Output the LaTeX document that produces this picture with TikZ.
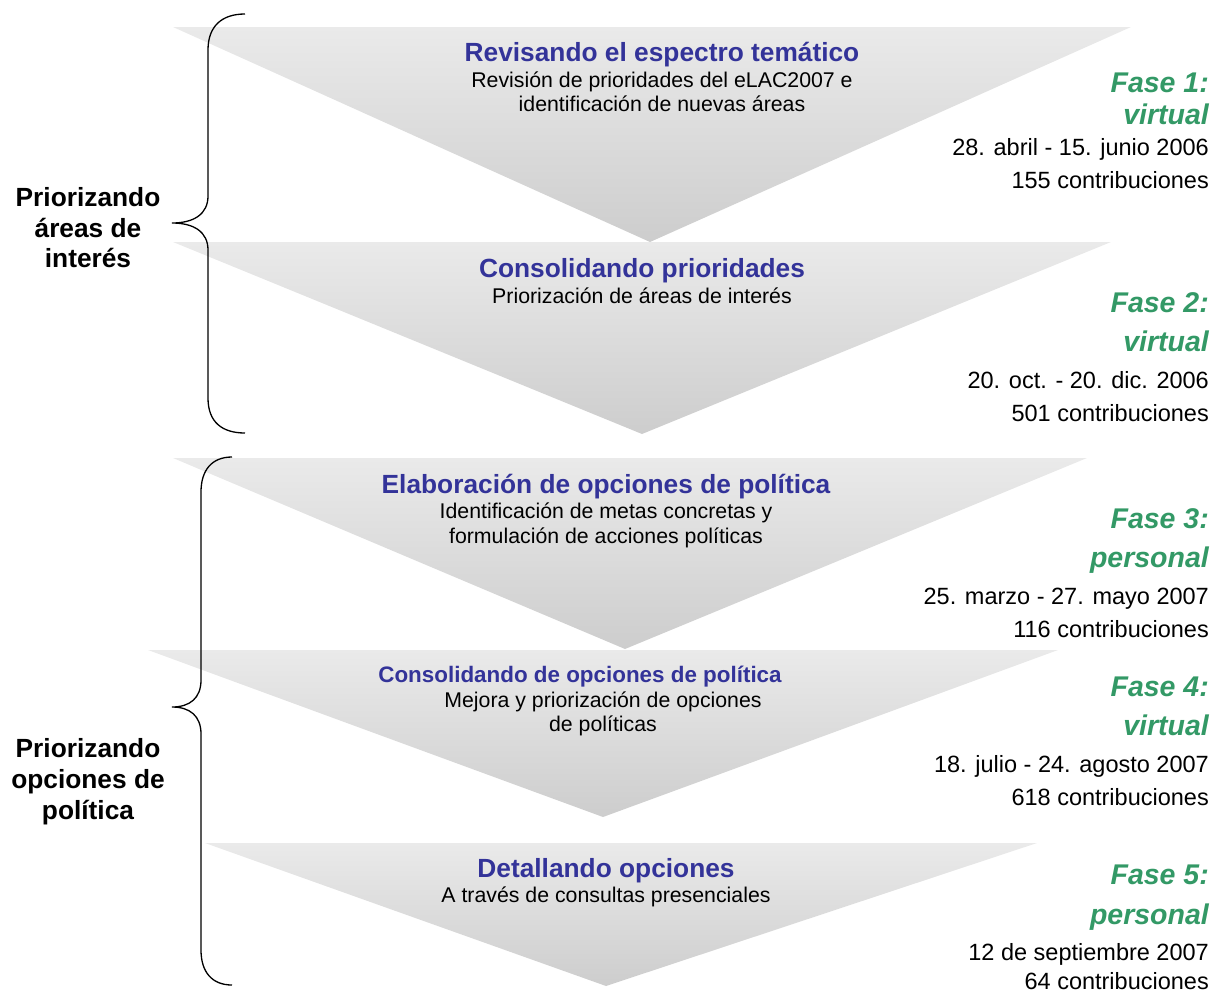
\documentclass[tikz,border=0pt]{standalone}
\usepackage{fontspec}
\setmainfont{Liberation Sans}
\usetikzlibrary{positioning}
\definecolor{azulfase}{RGB}{51,51,153}
\definecolor{verdefase}{RGB}{51,153,102}
\definecolor{grisarriba}{RGB}{234,234,234}
\definecolor{grisabajo}{RGB}{205,205,205}

\begin{document}
\begin{tikzpicture}[x=1pt,y=-1pt,
    embudo/.style={top color=grisarriba, bottom color=grisabajo},
    titulo/.style={anchor=base, inner sep=0pt, text=azulfase,
      font=\fontsize{26.3}{30}\selectfont\bfseries},
    titulochico/.style={titulo, font=\fontsize{22.4}{26}\selectfont\bfseries},
    detalle/.style={anchor=base, inner sep=0pt,
      font=\fontsize{21.3}{24}\selectfont},
    fase/.style={anchor=base east, inner sep=0pt, text=verdefase,
      font=\fontsize{28.5}{32}\selectfont\bfseries\itshape},
    fecha/.style={anchor=base east, inner sep=0pt,
      font=\fontsize{23.5}{27}\selectfont},
    grupo/.style={anchor=base, inner sep=0pt,
      font=\fontsize{26.3}{30}\selectfont\bfseries},
    llave/.style={draw, line width=1.3pt}]
  \useasboundingbox (0,0) rectangle (1214,993);

  % embudos
  \coordinate (A1) at (173,27);  \coordinate (B1) at (1131,27); \coordinate (C1) at (650,242);
  \coordinate (A2) at (173,242); \coordinate (B2) at (1111,242); \coordinate (C2) at (642,434);
  \coordinate (A3) at (173,458); \coordinate (B3) at (1087,458); \coordinate (C3) at (625,649);
  \coordinate (A4) at (148,650); \coordinate (B4) at (1058,650); \coordinate (C4) at (603,817);
  \coordinate (A5) at (205,843); \coordinate (B5) at (1037,843); \coordinate (C5) at (606,986);
  \foreach \i in {1,...,5}
    \shade[embudo] (A\i) -- (B\i) -- (C\i) -- cycle;

  % llaves
  \draw[llave] (245,14) .. controls (222,14) and (208,26) .. (208,50)
    -- (208,196) .. controls (208,214) and (194,223) .. (172,223)
    .. controls (194,223) and (208,232) .. (208,250)
    -- (208,398) .. controls (208,422) and (222,433) .. (245,433);
  \draw[llave] (232,457) .. controls (212,457) and (201,470) .. (201,492)
    -- (201,680) .. controls (201,698) and (190,707) .. (172,707)
    .. controls (190,707) and (201,716) .. (201,734)
    -- (201,950) .. controls (201,972) and (212,985) .. (232,985);

  % grupos
  \node[grupo] (G1a) at (88,206) {Priorizando};
  \node[grupo] (G1b) at (88,237) {áreas de};
  \node[grupo] (G1c) at (88,267) {interés};
  \node[grupo] (G2a) at (88,757) {Priorizando};
  \node[grupo] (G2b) at (88,788) {opciones de};
  \node[grupo] (G2c) at (88,819) {política};

  % textos dentro
  \node[titulo] (T1) at (662,61) {Revisando el espectro temático};
  \node[detalle] (D1a) at (662,87) {Revisión de prioridades del eLAC2007 e};
  \node[detalle] (D1b) at (662,111) {identificación de nuevas áreas};
  \node[titulo] (T2) at (642,277) {Consolidando prioridades};
  \node[detalle] (D2a) at (642,303) {Priorización de áreas de interés};
  \node[titulo] (T3) at (606,493) {Elaboración de opciones de política};
  \node[detalle] (D3a) at (606,518) {Identificación de metas concretas y};
  \node[detalle] (D3b) at (606,543) {formulación de acciones políticas};
  \node[titulochico] (T4) at (580,682) {Consolidando de opciones de política};
  \node[detalle] (D4a) at (603,707) {Mejora y priorización de opciones};
  \node[detalle] (D4b) at (603,731) {de políticas};
  \node[titulo] (T5) at (606,877) {Detallando opciones};
  \node[detalle] (D5a) at (606,902) {A través de consultas presenciales};

  % fases
  \node[fase] (F1a) at (1209,92) {Fase 1:};
  \node[fase] (F1b) at (1209,124) {virtual};
  \node[fecha] (F1c) at (1209,155) {28. abril - 15. junio 2006};
  \node[fecha] (F1d) at (1209,188) {155 contribuciones};
  \node[fase] (F2a) at (1209,312) {Fase 2:};
  \node[fase] (F2b) at (1209,351) {virtual};
  \node[fecha] (F2c) at (1209,388) {20. oct. - 20. dic. 2006};
  \node[fecha] (F2d) at (1209,421) {501 contribuciones};
  \node[fase] (F3a) at (1209,528) {Fase 3:};
  \node[fase] (F3b) at (1209,567) {personal};
  \node[fecha] (F3c) at (1209,604) {25. marzo - 27. mayo 2007};
  \node[fecha] (F3d) at (1209,637) {116 contribuciones};
  \node[fase] (F4a) at (1209,696) {Fase 4:};
  \node[fase] (F4b) at (1209,735) {virtual};
  \node[fecha] (F4c) at (1209,772) {18. julio - 24. agosto 2007};
  \node[fecha] (F4d) at (1209,805) {618 contribuciones};
  \node[fase] (F5a) at (1209,884) {Fase 5:};
  \node[fase] (F5b) at (1209,924) {personal};
  \node[fecha] (F5c) at (1209,960) {12 de septiembre 2007};
  \node[fecha] (F5d) at (1209,989) {64 contribuciones};
\end{tikzpicture}
\end{document}
